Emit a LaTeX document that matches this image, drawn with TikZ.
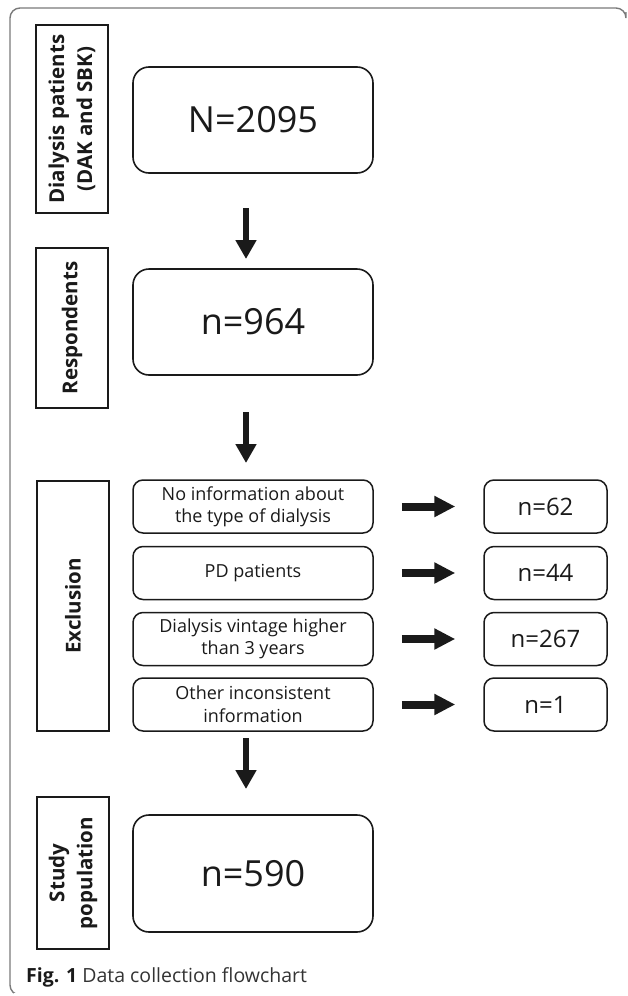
\documentclass[tikz,border=0pt]{standalone}
\usepackage{fontspec}
\setmainfont{Open Sans}
\usetikzlibrary{arrows.meta,positioning}
\definecolor{ink}{HTML}{1A1A1A}
\definecolor{framegray}{HTML}{7A7A7A}
\tikzset{
  labelbox/.style={draw=ink, line width=1.8pt, rotate=90, minimum height=72pt,
    inner sep=0pt, align=center, font=\fontsize{20.5}{28}\selectfont\bfseries, text=ink},
  bigbox/.style={draw=ink, line width=1.6pt, rounded corners=16pt, minimum width=240pt,
    inner sep=0pt, font=\fontsize{36}{40}\selectfont, text=ink},
  smallbox/.style={draw=ink, line width=1.5pt, rounded corners=10pt, minimum width=240pt,
    minimum height=53pt, inner sep=0pt, align=center, font=\fontsize{18}{22}\selectfont, text=ink},
  countbox/.style={draw=ink, line width=1.5pt, rounded corners=10pt, minimum width=123pt,
    minimum height=53pt, inner sep=0pt, font=\fontsize{24}{28}\selectfont, text=ink},
  downarrow/.style={draw=ink, line width=6.5pt, -{Triangle[width=20pt,length=19pt]}},
  rightarrow/.style={draw=ink, line width=8pt, -{Triangle[width=20pt,length=21pt]}},
}
\begin{document}
\begin{tikzpicture}[x=1pt,y=-1pt]
\useasboundingbox (0,0) rectangle (627,996);
% outer frame
\draw[framegray, line width=1.4pt, rounded corners=10pt] (626,12) -- (626,8) -- (10,8) -- (10,995) -- (40,995);
\fill[white] (14,993) rectangle (60,1000);
% label boxes
\node[labelbox, minimum width=188pt] (l1) at (72,119) {Dialysis patients\\(DAK and SBK)};
\node[labelbox, minimum width=160pt] (l2) at (72,328) {Respondents};
\node[labelbox, minimum width=250pt] (l3) at (73,606) {Exclusion};
\node[labelbox, minimum width=152pt] (l4) at (73,873) {Study\\population};
% main boxes
\node[bigbox, minimum height=106pt] (b1) at (253,120) {N=2095};
\node[bigbox, minimum height=106pt] (b2) at (253,322) {n=964};
\node[bigbox, minimum height=117pt] (b3) at (253,873.5) {n=590};
% exclusion boxes
\node[smallbox] (e1) at (253,506.5) {No information about\\the type of dialysis};
\node[smallbox] (e2) at (253,573) {PD patients};
\node[smallbox] (e3) at (253,639) {Dialysis vintage higher\\than 3 years};
\node[smallbox] (e4) at (253,704.5) {\raisebox{-2pt}{Other inconsistent}\\\raisebox{-3pt}{information}};
\node[countbox] (c1) at (545.5,506.5) {\raisebox{-2pt}{n=62}};
\node[countbox] (c2) at (545.5,573) {\raisebox{-2pt}{n=44}};
\node[countbox] (c3) at (545.5,639) {\raisebox{-3pt}{n=267}};
\node[countbox] (c4) at (545.5,704.5) {\raisebox{-2pt}{n=1}};
% arrow end points
\coordinate (a1s) at (246,208); \coordinate (a1e) at (246,259);
\coordinate (a2s) at (246,412); \coordinate (a2e) at (246,463);
\coordinate (a3s) at (246,738); \coordinate (a3e) at (246,789);
\draw[downarrow] (a1s) -- (a1e);
\draw[downarrow] (a2s) -- (a2e);
\draw[downarrow] (a3s) -- (a3e);
\foreach \i in {1,2,3,4}{
  \draw[rightarrow] ([xshift=28pt]e\i.east) -- ([xshift=-28pt]c\i.west);
}
% caption
\node[anchor=base west, inner sep=0pt, font=\fontsize{19.5}{22}\selectfont, text=ink] (cap) at (26,982)
  {\textbf{Fig. 1}\ \color{black!80}Data collection flowchart};
\end{tikzpicture}
\end{document}
